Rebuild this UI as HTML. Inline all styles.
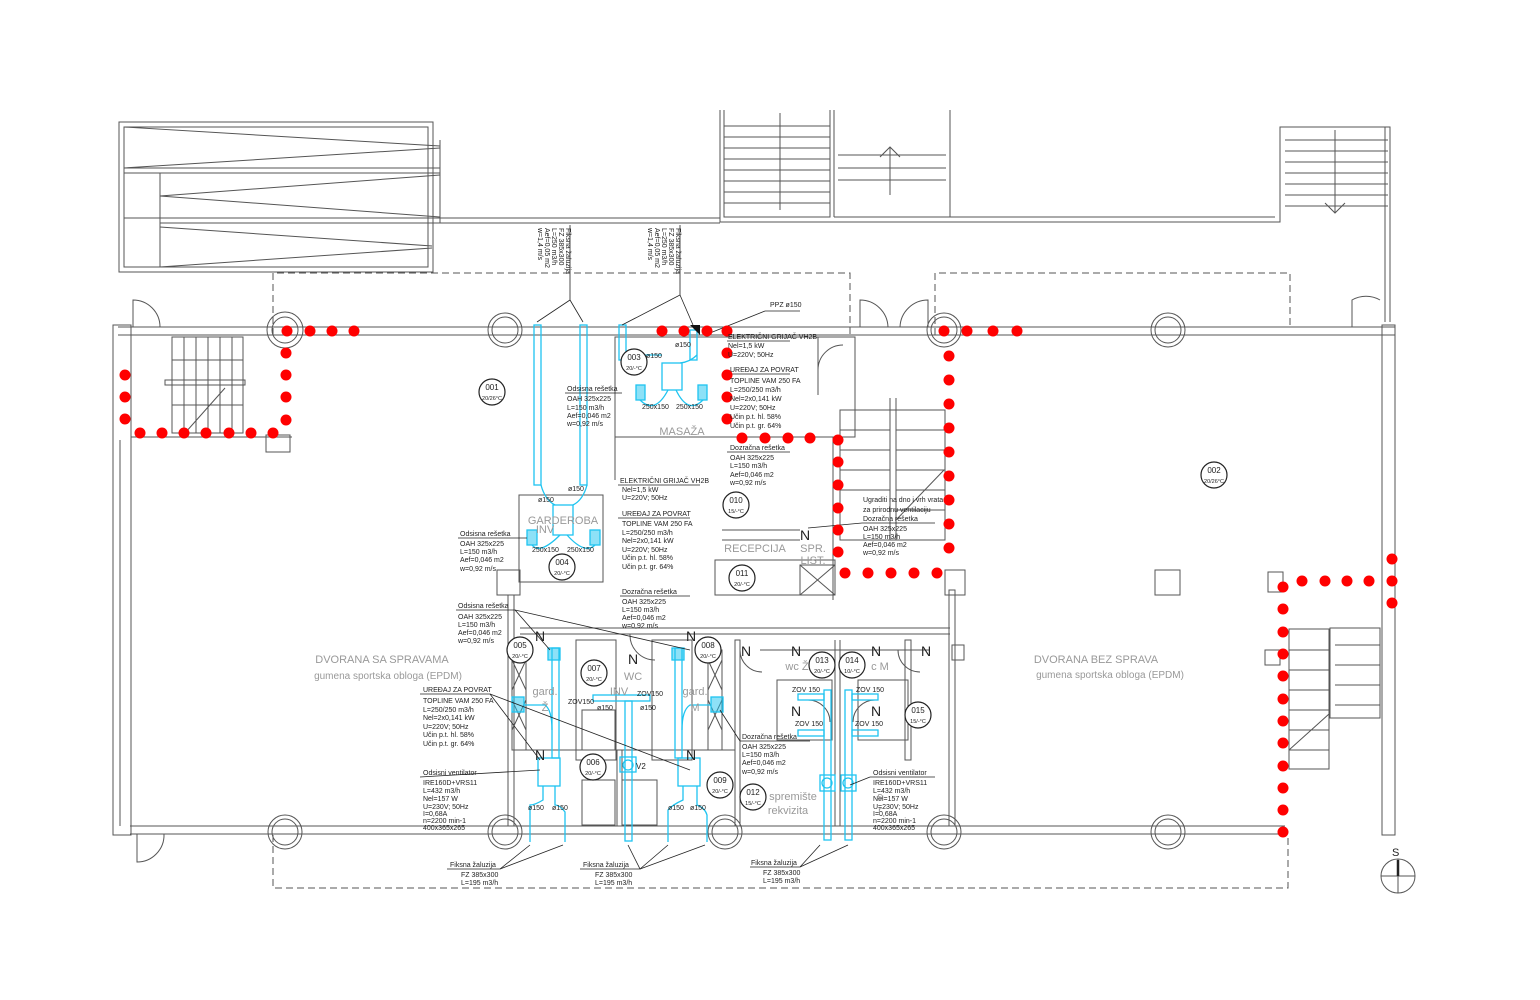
<!DOCTYPE html>
<html><head><meta charset="utf-8"><style>
html,body{margin:0;padding:0;background:#fff;}
svg{display:block;}
text{font-family:"Liberation Sans",sans-serif;fill:#222;}
.s{font-size:7px;}
.r{font-size:11px;}
.r text{fill:#999;}
.n{font-size:14px;}
</style></head><body>
<svg width="1540" height="1000" viewBox="0 0 1540 1000" xmlns="http://www.w3.org/2000/svg">
<g fill="none" stroke="#555" stroke-width="1">
<rect x="119" y="122" width="314" height="150"/>
<rect x="124" y="127" width="304" height="140"/>
<line x1="124" y1="168" x2="440" y2="168"/><line x1="124" y1="173" x2="440" y2="173"/>
<line x1="160" y1="173" x2="160" y2="267"/>
<line x1="124" y1="218" x2="720" y2="218"/><line x1="160" y1="223" x2="720" y2="223"/>
<line x1="124" y1="127" x2="440" y2="146"/><line x1="124" y1="168" x2="440" y2="148"/>
<line x1="160" y1="196" x2="440" y2="175"/><line x1="160" y1="196" x2="440" y2="217"/>
<line x1="160" y1="227" x2="432" y2="246"/><line x1="160" y1="267" x2="432" y2="248"/>
<line x1="440" y1="140" x2="440" y2="223"/>
<polyline points="720,110 720,222 1280,222 1280,127 1390,127 1390,220"/>
<polyline points="724,110 724,217 830,217 830,110"/>
<line x1="834" y1="110" x2="834" y2="217"/>
<polyline points="950,110 950,217 1275,217"/>
<polyline points="834,217 950,217"/>
<line x1="724" y1="126" x2="830" y2="126"/><line x1="724" y1="137" x2="830" y2="137"/><line x1="724" y1="148" x2="830" y2="148"/><line x1="724" y1="159" x2="830" y2="159"/><line x1="724" y1="170" x2="830" y2="170"/><line x1="724" y1="181" x2="830" y2="181"/><line x1="724" y1="192" x2="830" y2="192"/><line x1="724" y1="203" x2="830" y2="203"/>
<line x1="780" y1="113" x2="780" y2="210"/>
<line x1="838" y1="155" x2="946" y2="155"/><line x1="838" y1="168" x2="946" y2="168"/><line x1="838" y1="180" x2="946" y2="180"/>
<line x1="890" y1="147" x2="890" y2="195"/><polyline points="880,157 890,147 900,157"/>
<line x1="1285" y1="140" x2="1388" y2="140"/><line x1="1285" y1="151" x2="1388" y2="151"/><line x1="1285" y1="162" x2="1388" y2="162"/><line x1="1285" y1="173" x2="1388" y2="173"/><line x1="1285" y1="184" x2="1388" y2="184"/><line x1="1285" y1="195" x2="1388" y2="195"/><line x1="1285" y1="206" x2="1388" y2="206"/>
<line x1="1335" y1="130" x2="1335" y2="213"/><polyline points="1325,203 1335,213 1345,203"/>
<line x1="1385" y1="127" x2="1385" y2="322"/><line x1="1390" y1="220" x2="1390" y2="322"/>
<g stroke-dasharray="7,4">
<polyline points="273,335 273,273 850,273 850,335"/>
<polyline points="935,335 935,273 1290,273 1290,325"/>
<polyline points="273,835 273,888 1288,888 1288,835"/>
</g>
<line x1="118" y1="327" x2="1395" y2="327"/><line x1="118" y1="335" x2="1395" y2="335"/>
<line x1="130" y1="826" x2="1285" y2="826"/><line x1="130" y1="834" x2="1285" y2="834"/>
<rect x="113" y="325" width="18" height="510"/>
<line x1="120" y1="440" x2="120" y2="826"/>
<rect x="1382" y="325" width="13" height="510"/>
<circle cx="285" cy="330" r="13"/><circle cx="285" cy="330" r="18"/>
<circle cx="505" cy="330" r="13"/><circle cx="505" cy="330" r="17"/>
<circle cx="944" cy="330" r="13"/><circle cx="944" cy="330" r="17"/>
<circle cx="1168" cy="330" r="13"/><circle cx="1168" cy="330" r="17"/>
<circle cx="285" cy="832" r="13"/><circle cx="285" cy="832" r="17"/>
<circle cx="505" cy="832" r="13"/><circle cx="505" cy="832" r="17"/>
<circle cx="725" cy="832" r="13"/><circle cx="725" cy="832" r="17"/>
<circle cx="944" cy="832" r="13"/><circle cx="944" cy="832" r="17"/>
<circle cx="1168" cy="832" r="13"/><circle cx="1168" cy="832" r="17"/>
<path d="M133,327 V300 A27,27 0 0 1 160,327"/>
<path d="M137,834 V862 A27,27 0 0 0 164,834"/>
<path d="M860,327 V300 A28,28 0 0 1 888,327 M928,327 V300 A28,28 0 0 0 900,327"/>
<path d="M1352,327 V300 A28,28 0 0 1 1380,300"/>
<rect x="172" y="337" width="71" height="96"/>
<rect x="165" y="380" width="80" height="5"/>
<line x1="184" y1="337" x2="184" y2="433"/><line x1="196" y1="337" x2="196" y2="433"/><line x1="208" y1="337" x2="208" y2="433"/><line x1="220" y1="337" x2="220" y2="433"/><line x1="232" y1="337" x2="232" y2="433"/>
<line x1="172" y1="360" x2="243" y2="360"/><line x1="172" y1="405" x2="243" y2="405"/>
<line x1="185" y1="433" x2="225" y2="388"/>
<rect x="266" y="435" width="24" height="17"/>
<line x1="131" y1="437" x2="292" y2="437"/>
<rect x="615" y="337" width="240" height="100"/>
<line x1="615" y1="437" x2="615" y2="480"/>
<line x1="833" y1="437" x2="833" y2="600"/>
<rect x="519" y="495" width="84" height="87"/>
<rect x="497" y="570" width="23" height="25"/>
<line x1="508" y1="595" x2="508" y2="826"/><line x1="514" y1="595" x2="514" y2="826"/>
<line x1="603" y1="515" x2="603" y2="560"/>
<rect x="715" y="560" width="120" height="35"/>
<line x1="722" y1="530" x2="800" y2="530"/><line x1="722" y1="540" x2="800" y2="540"/>
<rect x="800" y="565" width="35" height="30"/><line x1="800" y1="565" x2="835" y2="595"/><line x1="835" y1="565" x2="800" y2="595"/>
<rect x="949" y="590" width="6" height="236"/>
<rect x="945" y="570" width="20" height="25"/>
<line x1="520" y1="628" x2="950" y2="628"/><line x1="520" y1="634" x2="950" y2="634"/>
<rect x="576" y="640" width="40" height="120"/>
<rect x="652" y="640" width="40" height="120"/>
<rect x="512" y="650" width="14" height="100"/>
<rect x="708" y="650" width="14" height="100"/>
<line x1="512" y1="660" x2="526" y2="690"/><line x1="526" y1="660" x2="512" y2="690"/><line x1="512" y1="700" x2="526" y2="730"/><line x1="526" y1="700" x2="512" y2="730"/>
<line x1="708" y1="660" x2="722" y2="690"/><line x1="722" y1="660" x2="708" y2="690"/><line x1="708" y1="700" x2="722" y2="730"/><line x1="722" y1="700" x2="708" y2="730"/>
<line x1="520" y1="750" x2="735" y2="750"/>
<rect x="582" y="710" width="33" height="40"/><rect x="582" y="780" width="33" height="45"/><rect x="622" y="780" width="35" height="45"/>
<line x1="617" y1="750" x2="617" y2="826"/><line x1="622" y1="750" x2="622" y2="826"/>
<rect x="735" y="640" width="5" height="186"/>
<line x1="760" y1="650" x2="930" y2="650"/>
<rect x="777" y="680" width="55" height="60"/><rect x="858" y="680" width="50" height="60"/>
<line x1="835" y1="640" x2="835" y2="826"/><line x1="840" y1="640" x2="840" y2="826"/>
<rect x="905" y="640" width="6" height="120"/>
<path d="M630,634 A25,25 0 0 0 655,660 M740,650 A22,22 0 0 0 762,672 M898,650 A22,22 0 0 0 920,672 M808,700 A22,22 0 0 1 830,722 M875,700 A22,22 0 0 0 853,722"/>
<rect x="952" y="645" width="12" height="15"/>
<rect x="840" y="410" width="105" height="130"/>
<line x1="890" y1="398" x2="890" y2="540"/><line x1="896" y1="398" x2="896" y2="540"/>
<line x1="840" y1="430" x2="890" y2="430"/><line x1="840" y1="450" x2="890" y2="450"/><line x1="840" y1="470" x2="890" y2="470"/><line x1="840" y1="490" x2="890" y2="490"/>
<line x1="896" y1="430" x2="945" y2="430"/><line x1="896" y1="450" x2="945" y2="450"/><line x1="896" y1="470" x2="945" y2="470"/><line x1="896" y1="490" x2="945" y2="490"/><line x1="896" y1="510" x2="945" y2="510"/>
<line x1="896" y1="520" x2="944" y2="470"/>
<path d="M818,337 V395 M818,370 A25,25 0 0 1 843,345"/>
<rect x="1155" y="570" width="25" height="25"/>
<rect x="1268" y="572" width="15" height="20"/>
<rect x="1265" y="650" width="15" height="15"/>
<rect x="1289" y="629" width="40" height="140"/>
<rect x="1330" y="628" width="50" height="90"/>
<line x1="1289" y1="650" x2="1329" y2="650"/><line x1="1289" y1="670" x2="1329" y2="670"/><line x1="1289" y1="690" x2="1329" y2="690"/><line x1="1289" y1="710" x2="1329" y2="710"/><line x1="1289" y1="730" x2="1329" y2="730"/><line x1="1289" y1="750" x2="1329" y2="750"/>
<line x1="1335" y1="645" x2="1380" y2="645"/><line x1="1335" y1="665" x2="1380" y2="665"/><line x1="1335" y1="685" x2="1380" y2="685"/><line x1="1335" y1="705" x2="1380" y2="705"/>
<line x1="1289" y1="750" x2="1329" y2="714"/>
<circle cx="1398" cy="876" r="17"/><line x1="1381" y1="876" x2="1415" y2="876"/><line x1="1398" y1="859" x2="1398" y2="893"/>
</g>
<line x1="1398" y1="860" x2="1398" y2="876" stroke="#222" stroke-width="2.5"/>
<text x="1392" y="856" style="font-size:11px">S</text>

<g fill="none" stroke="#1ec4f0" stroke-width="1.3">
<rect x="534" y="325" width="7" height="160"/><rect x="580" y="325" width="7" height="160"/>
<path d="M541,485 Q545,500 555,505 M587,485 Q583,500 573,505"/>
<rect x="553" y="505" width="20" height="30"/>
<rect x="527" y="530" width="10" height="15"/><rect x="590" y="530" width="10" height="15"/>
<path d="M532,545 Q540,555 560,535 M595,545 Q585,555 567,535"/>
<rect x="619" y="325" width="7" height="35"/><rect x="690" y="330" width="7" height="30"/>
<path d="M626,355 H662 M697,355 Q690,362 680,363"/>
<rect x="662" y="363" width="20" height="27"/>
<rect x="636" y="385" width="9" height="15"/><rect x="698" y="385" width="9" height="15"/>
<path d="M640,400 Q655,415 668,390 M703,400 Q688,415 676,390"/>
<rect x="552" y="648" width="7" height="110"/><rect x="548" y="648" width="12" height="12"/>
<rect x="538" y="758" width="22" height="28"/>
<rect x="512" y="697" width="12" height="15"/>
<path d="M524,705 H545 Q552,710 552,730"/>
<path d="M543,786 V800 Q535,805 530,805 V842 M555,786 V805 Q560,805 565,812 V842"/>
<rect x="675" y="648" width="7" height="110"/><rect x="672" y="648" width="12" height="12"/>
<rect x="678" y="758" width="22" height="28"/>
<rect x="711" y="697" width="12" height="15"/>
<path d="M711,705 H690 Q682,710 682,730"/>
<path d="M683,786 V800 Q672,805 668,810 V842 M697,786 V805 Q705,808 707,815 V842"/>
<rect x="593" y="695" width="57" height="6"/>
<rect x="625" y="701" width="7" height="140"/>
<rect x="620" y="757" width="16" height="15"/><circle cx="628" cy="765" r="5"/>
<rect x="824" y="690" width="7" height="150"/><rect x="845" y="690" width="7" height="150"/>
<rect x="798" y="694" width="26" height="6"/><rect x="852" y="694" width="26" height="6"/>
<rect x="798" y="730" width="26" height="6"/><rect x="852" y="730" width="26" height="6"/>
<rect x="820" y="775" width="15" height="16"/><rect x="841" y="775" width="15" height="16"/>
<circle cx="827" cy="783" r="5"/><circle cx="848" cy="783" r="5"/>
</g>
<g fill="#1ec4f0" opacity="0.5">
<rect x="527" y="530" width="10" height="15"/><rect x="590" y="530" width="10" height="15"/><rect x="636" y="385" width="9" height="15"/><rect x="698" y="385" width="9" height="15"/><rect x="548" y="648" width="12" height="12"/><rect x="672" y="648" width="12" height="12"/><rect x="512" y="697" width="12" height="15"/><rect x="711" y="697" width="12" height="15"/>
</g>

<g fill="none" stroke="#222" stroke-width="0.8">
<polyline points="570,225 570,300 537,322"/><line x1="570" y1="300" x2="583" y2="322"/>
<polyline points="680,225 680,295 622,325"/><line x1="680" y1="295" x2="693" y2="325"/>
<polyline points="800,311 765,311 705,335"/>
<line x1="727" y1="341" x2="790" y2="341"/><line x1="727" y1="374" x2="790" y2="374"/><line x1="727" y1="452" x2="790" y2="452"/>
<line x1="565" y1="393" x2="622" y2="393"/><line x1="618" y1="485" x2="700" y2="485"/><line x1="618" y1="518" x2="690" y2="518"/>
<line x1="458" y1="538" x2="527" y2="538"/><line x1="620" y1="596" x2="690" y2="596"/>
<polyline points="456,610 515,610 690,650"/><line x1="515" y1="610" x2="550" y2="650"/>
<polyline points="420,694 490,694 540,760"/><line x1="490" y1="694" x2="690" y2="770"/>
<line x1="420" y1="777" x2="540" y2="770"/>
<line x1="740" y1="741" x2="810" y2="741"/><line x1="720" y1="710" x2="740" y2="741"/>
<line x1="870" y1="777" x2="935" y2="777"/><line x1="870" y1="777" x2="850" y2="785"/>
<line x1="862" y1="523" x2="935" y2="523"/><line x1="862" y1="523" x2="808" y2="528"/>
<polyline points="447,869 500,869 530,845"/><line x1="500" y1="869" x2="563" y2="845"/>
<polyline points="580,869 640,869 628,845"/><line x1="640" y1="869" x2="668" y2="845"/><line x1="640" y1="869" x2="705" y2="845"/>
<polyline points="750,867 800,867 820,845"/><line x1="800" y1="867" x2="848" y2="845"/>
</g>
<polygon points="690,325 700,325 700,335" fill="#111"/>

<g fill="#f00">
<circle cx="287" cy="331" r="5.5"/><circle cx="310" cy="331" r="5.5"/><circle cx="332" cy="331" r="5.5"/><circle cx="354" cy="331" r="5.5"/>
<circle cx="286" cy="353" r="5.5"/><circle cx="286" cy="375" r="5.5"/><circle cx="286" cy="397" r="5.5"/><circle cx="286" cy="420" r="5.5"/>
<circle cx="140" cy="433" r="5.5"/><circle cx="162" cy="433" r="5.5"/><circle cx="184" cy="433" r="5.5"/><circle cx="206" cy="433" r="5.5"/><circle cx="229" cy="433" r="5.5"/><circle cx="251" cy="433" r="5.5"/><circle cx="273" cy="433" r="5.5"/>
<circle cx="125" cy="375" r="5.5"/><circle cx="125" cy="397" r="5.5"/><circle cx="125" cy="419" r="5.5"/>
<circle cx="662" cy="331" r="5.5"/><circle cx="684" cy="331" r="5.5"/><circle cx="707" cy="331" r="5.5"/><circle cx="727" cy="331" r="5.5"/>
<circle cx="727" cy="353" r="5.5"/><circle cx="727" cy="375" r="5.5"/><circle cx="727" cy="397" r="5.5"/><circle cx="727" cy="419" r="5.5"/>
<circle cx="742" cy="438" r="5.5"/><circle cx="765" cy="438" r="5.5"/><circle cx="788" cy="438" r="5.5"/><circle cx="810" cy="438" r="5.5"/><circle cx="838" cy="440" r="5.5"/>
<circle cx="838" cy="462" r="5.5"/><circle cx="838" cy="485" r="5.5"/><circle cx="838" cy="508" r="5.5"/><circle cx="838" cy="530" r="5.5"/><circle cx="838" cy="552" r="5.5"/>
<circle cx="845" cy="573" r="5.5"/><circle cx="868" cy="573" r="5.5"/><circle cx="891" cy="573" r="5.5"/><circle cx="914" cy="573" r="5.5"/><circle cx="937" cy="573" r="5.5"/>
<circle cx="944" cy="331" r="5.5"/><circle cx="967" cy="331" r="5.5"/><circle cx="993" cy="331" r="5.5"/><circle cx="1017" cy="331" r="5.5"/>
<circle cx="949" cy="356" r="5.5"/><circle cx="949" cy="380" r="5.5"/><circle cx="949" cy="404" r="5.5"/><circle cx="949" cy="428" r="5.5"/><circle cx="949" cy="452" r="5.5"/><circle cx="949" cy="476" r="5.5"/><circle cx="949" cy="500" r="5.5"/><circle cx="949" cy="524" r="5.5"/><circle cx="949" cy="548" r="5.5"/>
<circle cx="1392" cy="559" r="5.5"/><circle cx="1392" cy="581" r="5.5"/><circle cx="1392" cy="603" r="5.5"/>
<circle cx="1302" cy="581" r="5.5"/><circle cx="1325" cy="581" r="5.5"/><circle cx="1347" cy="581" r="5.5"/><circle cx="1369" cy="581" r="5.5"/>
<circle cx="1283" cy="587" r="5.5"/><circle cx="1283" cy="609" r="5.5"/><circle cx="1283" cy="632" r="5.5"/><circle cx="1283" cy="654" r="5.5"/><circle cx="1283" cy="676" r="5.5"/><circle cx="1283" cy="699" r="5.5"/><circle cx="1283" cy="721" r="5.5"/><circle cx="1283" cy="743" r="5.5"/><circle cx="1283" cy="766" r="5.5"/><circle cx="1283" cy="788" r="5.5"/><circle cx="1283" cy="810" r="5.5"/><circle cx="1283" cy="832" r="5.5"/>
</g>

<g fill="#fff" stroke="#222" stroke-width="1.2">
<circle cx="492" cy="392" r="13"/><circle cx="1214" cy="475" r="13"/><circle cx="634" cy="362" r="13"/><circle cx="562" cy="567" r="13"/><circle cx="520" cy="650" r="13"/><circle cx="593" cy="767" r="13"/><circle cx="594" cy="673" r="13"/><circle cx="708" cy="650" r="13"/><circle cx="720" cy="785" r="13"/><circle cx="736" cy="505" r="13"/><circle cx="742" cy="578" r="13"/><circle cx="753" cy="797" r="13"/><circle cx="822" cy="665" r="13"/><circle cx="852" cy="665" r="13"/><circle cx="918" cy="715" r="13"/>
</g>
<g style="font-size:8px" text-anchor="middle">
<text x="492" y="390">001</text><text x="492" y="400" style="font-size:5.5px">20/26°C</text>
<text x="1214" y="473">002</text><text x="1214" y="483" style="font-size:5.5px">20/26°C</text>
<text x="634" y="360">003</text><text x="634" y="370" style="font-size:5.5px">20/-°C</text>
<text x="562" y="565">004</text><text x="562" y="575" style="font-size:5.5px">20/-°C</text>
<text x="520" y="648">005</text><text x="520" y="658" style="font-size:5.5px">20/-°C</text>
<text x="593" y="765">006</text><text x="593" y="775" style="font-size:5.5px">20/-°C</text>
<text x="594" y="671">007</text><text x="594" y="681" style="font-size:5.5px">20/-°C</text>
<text x="708" y="648">008</text><text x="708" y="658" style="font-size:5.5px">20/-°C</text>
<text x="720" y="783">009</text><text x="720" y="793" style="font-size:5.5px">20/-°C</text>
<text x="736" y="503">010</text><text x="736" y="513" style="font-size:5.5px">15/-°C</text>
<text x="742" y="576">011</text><text x="742" y="586" style="font-size:5.5px">20/-°C</text>
<text x="753" y="795">012</text><text x="753" y="805" style="font-size:5.5px">15/-°C</text>
<text x="822" y="663">013</text><text x="822" y="673" style="font-size:5.5px">20/-°C</text>
<text x="852" y="663">014</text><text x="852" y="673" style="font-size:5.5px">10/-°C</text>
<text x="918" y="713">015</text><text x="918" y="723" style="font-size:5.5px">15/-°C</text>
</g>

<g class="s">
<g transform="translate(566,228) rotate(90)"><text x="0" y="0">Fiksna žaluzija</text><text x="0" y="7">FZ 385x300</text><text x="0" y="14">L=250 m3/h</text><text x="0" y="21">Aef=0,05 m2</text><text x="0" y="28">w=1,4 m/s</text></g>
<g transform="translate(676,228) rotate(90)"><text x="0" y="0">Fiksna žaluzija</text><text x="0" y="7">FZ 385x300</text><text x="0" y="14">L=250 m3/h</text><text x="0" y="21">Aef=0,05 m2</text><text x="0" y="28">w=1,4 m/s</text></g>
</g>

<g class="s">
<text x="770" y="307">PPZ ø150</text>
<text x="728" y="339">ELEKTRIČNI GRIJAČ VH2B</text><text x="728" y="348">Nel=1,5 kW</text><text x="728" y="357">U=220V; 50Hz</text>
<text x="730" y="372">UREĐAJ ZA POVRAT</text><text x="730" y="383">TOPLINE VAM 250 FA</text><text x="730" y="392">L=250/250 m3/h</text><text x="730" y="401">Nel=2x0,141 kW</text><text x="730" y="410">U=220V; 50Hz</text><text x="730" y="419">Učin p.t. hl. 58%</text><text x="730" y="428">Učin p.t. gr. 64%</text>
<text x="730" y="450">Dozračna rešetka</text><text x="730" y="460">OAH 325x225</text><text x="730" y="468">L=150 m3/h</text><text x="730" y="477">Aef=0,046 m2</text><text x="730" y="485">w=0,92 m/s</text>
<text x="567" y="391">Odsisna rešetka</text><text x="567" y="401">OAH 325x225</text><text x="567" y="410">L=150 m3/h</text><text x="567" y="418">Aef=0,046 m2</text><text x="567" y="426">w=0,92 m/s</text>
<text x="620" y="483">ELEKTRIČNI GRIJAČ VH2B</text><text x="622" y="492">Nel=1,5 kW</text><text x="622" y="500">U=220V; 50Hz</text>
<text x="622" y="516">UREĐAJ ZA POVRAT</text><text x="622" y="526">TOPLINE VAM 250 FA</text><text x="622" y="535">L=250/250 m3/h</text><text x="622" y="543">Nel=2x0,141 kW</text><text x="622" y="552">U=220V; 50Hz</text><text x="622" y="560">Učin p.t. hl. 58%</text><text x="622" y="569">Učin p.t. gr. 64%</text>
<text x="460" y="536">Odsisna rešetka</text><text x="460" y="546">OAH 325x225</text><text x="460" y="554">L=150 m3/h</text><text x="460" y="562">Aef=0,046 m2</text><text x="460" y="571">w=0,92 m/s</text>
<text x="622" y="594">Dozračna rešetka</text><text x="622" y="604">OAH 325x225</text><text x="622" y="612">L=150 m3/h</text><text x="622" y="620">Aef=0,046 m2</text><text x="622" y="628">w=0,92 m/s</text>
<text x="458" y="608">Odsisna rešetka</text><text x="458" y="619">OAH 325x225</text><text x="458" y="627">L=150 m3/h</text><text x="458" y="635">Aef=0,046 m2</text><text x="458" y="643">w=0,92 m/s</text>
<text x="423" y="692">UREĐAJ ZA POVRAT</text><text x="423" y="703">TOPLINE VAM 250 FA</text><text x="423" y="712">L=250/250 m3/h</text><text x="423" y="720">Nel=2x0,141 kW</text><text x="423" y="729">U=220V; 50Hz</text><text x="423" y="737">Učin p.t. hl. 58%</text><text x="423" y="746">Učin p.t. gr. 64%</text>
<text x="423" y="775">Odsisni ventilator</text><text x="423" y="785">IRE160D+VRS11</text><text x="423" y="793">L=432 m3/h</text><text x="423" y="801">Nel=157 W</text><text x="423" y="809">U=230V; 50Hz</text><text x="423" y="816">I=0,68A</text><text x="423" y="823">n=2200 min-1</text><text x="423" y="830">400x365x265</text>
<text x="742" y="739">Dozračna rešetka</text><text x="742" y="749">OAH 325x225</text><text x="742" y="757">L=150 m3/h</text><text x="742" y="765">Aef=0,046 m2</text><text x="742" y="774">w=0,92 m/s</text>
<text x="873" y="775">Odsisni ventilator</text><text x="873" y="785">IRE160D+VRS11</text><text x="873" y="793">L=432 m3/h</text><text x="873" y="801">Nel=157 W</text><text x="873" y="809">U=230V; 50Hz</text><text x="873" y="816">I=0,68A</text><text x="873" y="823">n=2200 min-1</text><text x="873" y="830">400x365x265</text>
<text x="863" y="502">Ugraditi na dno i vrh vrata</text><text x="863" y="512">za prirodnu ventilaciju</text><text x="863" y="521">Dozračna rešetka</text><text x="863" y="531">OAH 325x225</text><text x="863" y="539">L=150 m3/h</text><text x="863" y="547">Aef=0,046 m2</text><text x="863" y="555">w=0,92 m/s</text>
<text x="450" y="867">Fiksna žaluzija</text><text x="461" y="877">FZ 385x300</text><text x="461" y="885">L=195 m3/h</text>
<text x="583" y="867">Fiksna žaluzija</text><text x="595" y="877">FZ 385x300</text><text x="595" y="885">L=195 m3/h</text>
<text x="751" y="865">Fiksna žaluzija</text><text x="763" y="875">FZ 385x300</text><text x="763" y="883">L=195 m3/h</text>
<text x="675" y="347">ø150</text><text x="646" y="358">ø150</text><text x="642" y="409">250x150</text><text x="676" y="409">250x150</text>
<text x="538" y="502">ø150</text><text x="568" y="491">ø150</text><text x="532" y="552">250x150</text><text x="567" y="552">250x150</text>
<text x="528" y="810">ø150</text><text x="552" y="810">ø150</text><text x="668" y="810">ø150</text><text x="690" y="810">ø150</text>
<text x="568" y="704">ZOV150</text><text x="637" y="696">ZOV150</text><text x="597" y="710">ø150</text><text x="640" y="710">ø150</text>
<text x="792" y="692">ZOV 150</text><text x="856" y="692">ZOV 150</text><text x="795" y="726">ZOV 150</text><text x="855" y="726">ZOV 150</text>
<text x="636" y="769" style="font-size:8px">V2</text>
</g>

<g class="r" text-anchor="middle">
<text x="382" y="663">DVORANA SA SPRAVAMA</text><text x="388" y="679" style="font-size:10px">gumena sportska obloga (EPDM)</text>
<text x="1096" y="663">DVORANA BEZ SPRAVA</text><text x="1110" y="678" style="font-size:10px">gumena sportska obloga (EPDM)</text>
<text x="682" y="435">MASAŽA</text><text x="563" y="524">GARDEROBA</text><text x="545" y="533">INV</text>
<text x="755" y="552">RECEPCIJA</text><text x="813" y="552">SPR.</text><text x="813" y="564">LIST.</text>
<text x="633" y="680">WC</text><text x="619" y="695">INV</text><text x="545" y="695">gard.</text><text x="545" y="711">Ž</text><text x="695" y="695">gard.</text><text x="695" y="711">M</text>
<text x="797" y="670">wc Ž</text><text x="880" y="670">c M</text><text x="793" y="800">spremište</text><text x="788" y="814">rekvizita</text><text x="880" y="800">s</text><text x="880" y="814">r</text>
</g>
<g class="n">
<text x="535" y="641">N</text><text x="686" y="641">N</text><text x="628" y="664">N</text><text x="741" y="656">N</text><text x="791" y="656">N</text><text x="871" y="656">N</text><text x="921" y="656">N</text><text x="791" y="716">N</text><text x="871" y="716">N</text><text x="535" y="760">N</text><text x="686" y="760">N</text><text x="800" y="540">N</text>
</g>
</svg>
</body></html>
